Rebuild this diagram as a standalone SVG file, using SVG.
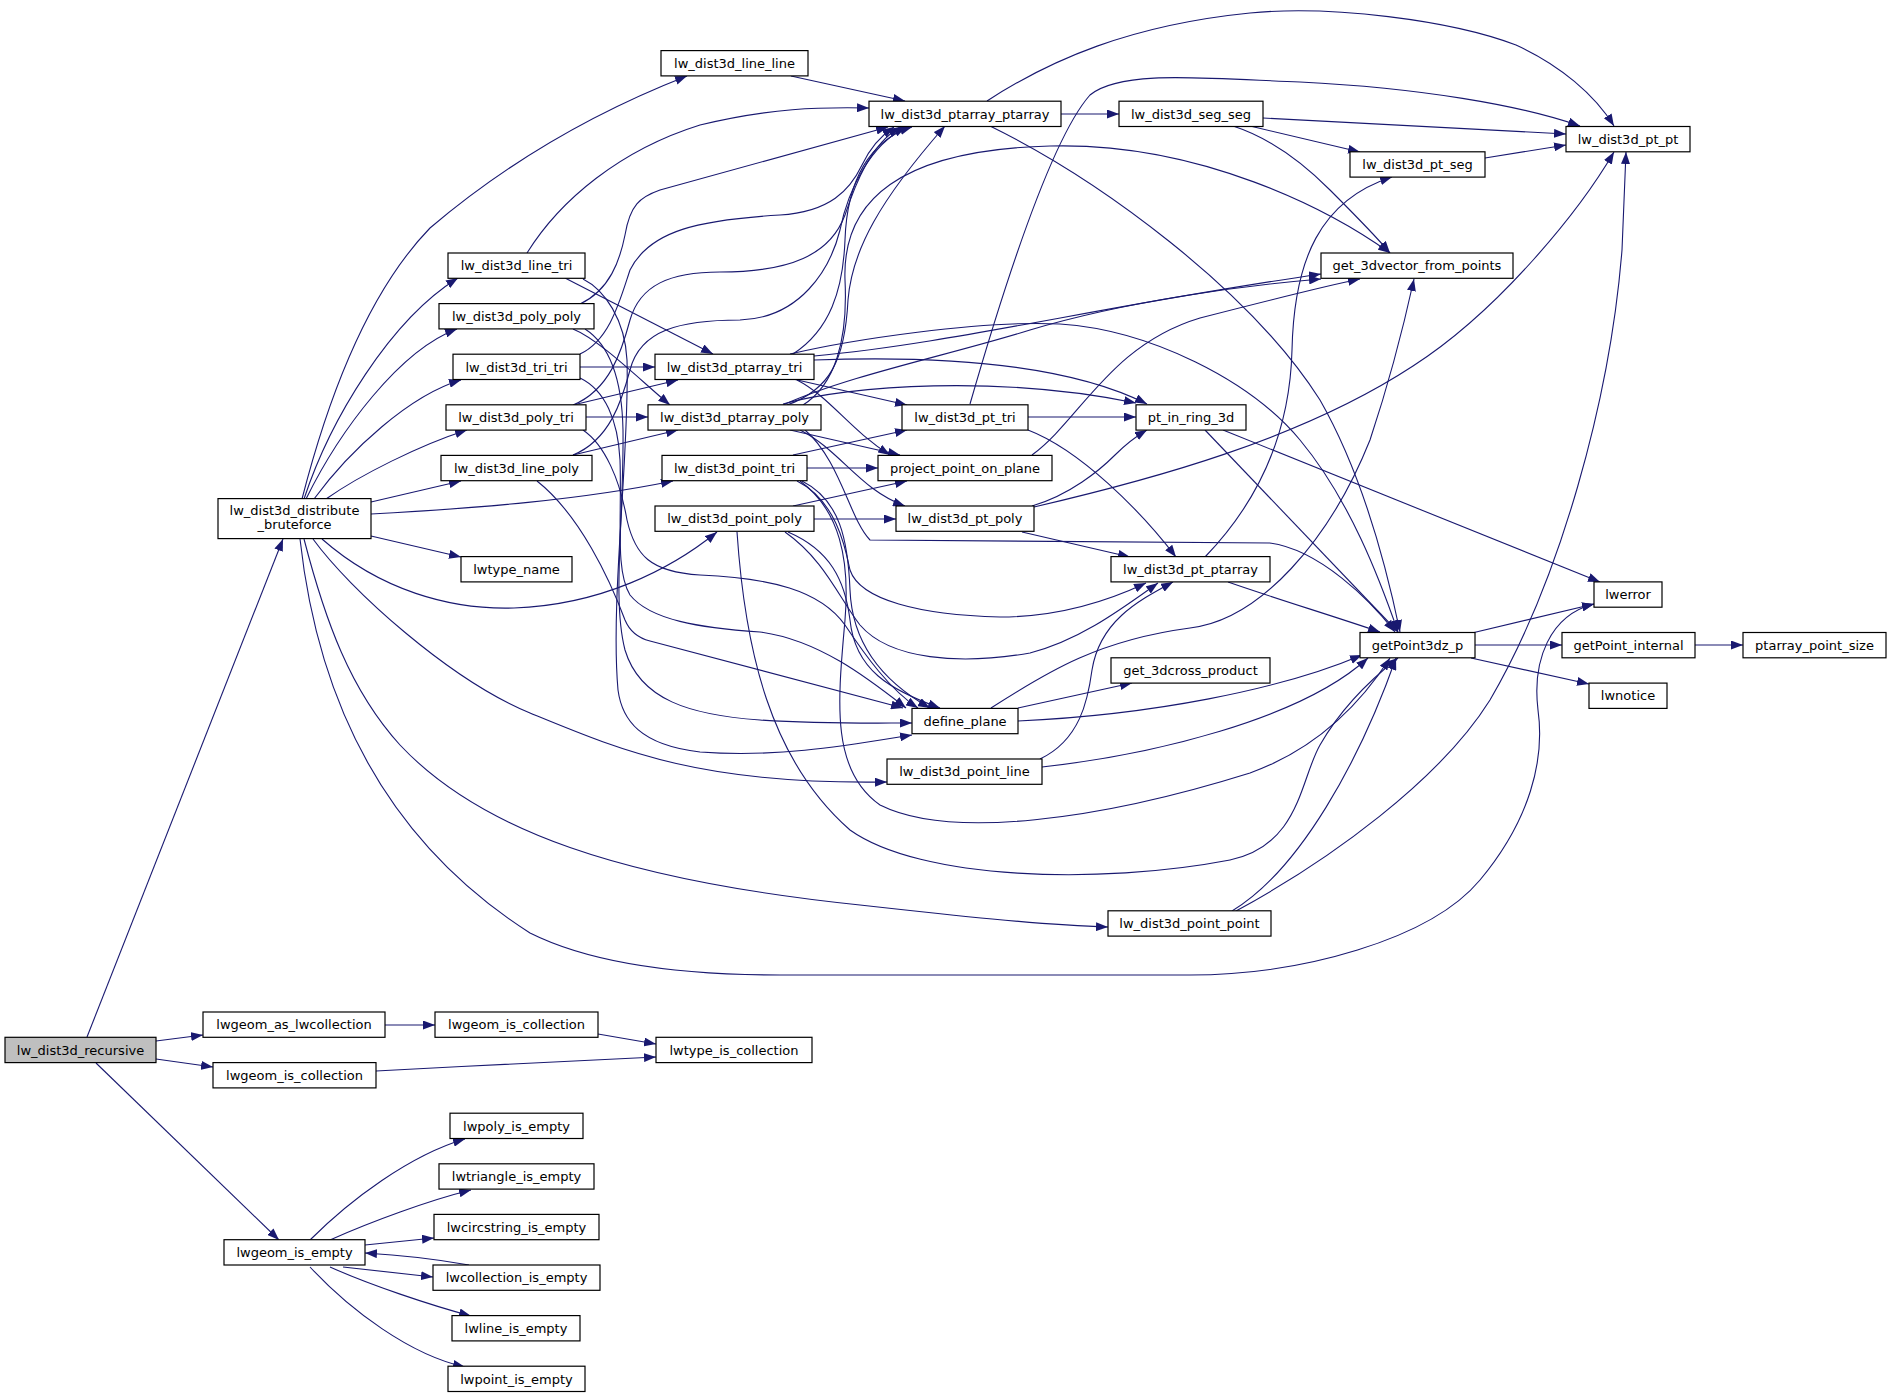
<svg xmlns="http://www.w3.org/2000/svg" width="1891" height="1399" viewBox="0 0 1891 1399">
<defs>
<marker id="ah" markerUnits="userSpaceOnUse" markerWidth="12" markerHeight="9" refX="12" refY="4.5" orient="auto">
<path d="M0,0 L12,4.5 L0,9 z" fill="#191970"/>
</marker>
<style>
.node rect{fill:#ffffff;stroke:#000000;stroke-width:1.2}
.node.root rect{fill:#bfbfbf}
.node text{font-family:"DejaVu Sans","Liberation Sans",sans-serif;font-size:13px;text-anchor:middle;fill:#000000}
.edges path{fill:none;stroke:#191970;stroke-width:1.1;marker-end:url(#ah)}
</style>
</defs>
<rect x="0" y="0" width="1891" height="1399" fill="#ffffff"/>
<g id="connectors" class="edges">
<path d="M87,1037 L283,539"/>
<path d="M156,1041 L203,1035"/>
<path d="M156,1059 L213,1067"/>
<path d="M96,1063 L279,1240"/>
<path d="M385,1025 L435,1025"/>
<path d="M598,1034 L656,1044"/>
<path d="M376,1071 C470,1066 570,1061 656,1057"/>
<path d="M310,1240 C350,1200 410,1155 465,1139"/>
<path d="M330,1240 C370,1222 430,1200 471,1190"/>
<path d="M365,1245 L434,1238"/>
<path d="M343,1267 L433,1277"/>
<path d="M469,1265 C430,1258 400,1255 365,1253"/>
<path d="M330,1267 C370,1285 430,1305 471,1316"/>
<path d="M310,1267 C350,1310 410,1355 465,1367"/>
<path d="M302,499 C330,390 370,290 430,228 C510,160 600,110 687,76"/>
<path d="M304,499 C330,420 390,320 458,278"/>
<path d="M306,499 C340,430 400,350 457,329"/>
<path d="M314,499 C350,450 410,395 461,380"/>
<path d="M326,499 C360,475 420,445 467,430"/>
<path d="M371,502 L461,481"/>
<path d="M371,514 C480,508 580,500 673,481"/>
<path d="M371,536 L461,557"/>
<path d="M322,539 C380,590 450,610 514,608 C600,605 670,570 717,532"/>
<path d="M313,539 C350,590 450,680 530,713 C620,750 700,785 887,782"/>
<path d="M304,539 C325,620 350,690 400,745 C480,830 620,880 860,905 C950,915 1040,925 1108,927"/>
<path d="M300,539 C320,720 400,850 530,933 C600,968 700,975 780,975 L1190,975 C1300,975 1430,940 1480,880 C1530,820 1545,760 1538,710 C1532,660 1550,615 1594,604"/>
<path d="M527,253 C560,200 620,150 700,125 C770,108 820,107 869,108"/>
<path d="M565,278 L713,354"/>
<path d="M583,279 C605,290 625,320 627,360 C630,450 610,600 618,690 C622,720 640,745 700,752 C780,758 850,745 912,735"/>
<path d="M580,304 C610,290 620,260 625,235 C630,205 640,197 660,190 L888,127"/>
<path d="M573,329 C600,340 640,380 670,405"/>
<path d="M585,329 C610,345 622,380 623,430 C624,520 612,600 625,650 C640,700 690,715 760,720 C820,724 870,723 912,723"/>
<path d="M580,354 C610,340 620,300 630,270 C650,230 700,220 780,215 C830,212 850,190 862,165 C870,148 882,135 894,127"/>
<path d="M580,367 L655,367"/>
<path d="M580,378 C605,390 618,420 620,460 C622,520 615,570 630,595 C650,620 700,628 760,632 C820,640 870,680 906,708"/>
<path d="M573,405 C610,390 622,350 630,320 C640,285 670,272 720,272 C790,272 830,255 845,215 C855,185 870,145 900,127"/>
<path d="M586,417 L648,417"/>
<path d="M573,405 L678,380"/>
<path d="M583,430 C605,445 620,480 627,520 C635,555 650,572 700,575 C770,578 820,590 845,625 C865,655 890,690 918,708"/>
<path d="M573,455 C610,440 622,400 630,370 C640,330 680,320 740,320 C800,318 830,270 840,230 C848,190 870,145 906,127"/>
<path d="M573,455 L678,430"/>
<path d="M537,481 C580,515 610,580 625,620 C630,632 638,638 650,641 L903,708"/>
<path d="M791,76 L905,101"/>
<path d="M793,354 C830,330 843,290 845,240 C847,180 870,140 912,127"/>
<path d="M814,356 C950,344 1100,306 1321,274"/>
<path d="M814,360 C950,355 1070,365 1147,404"/>
<path d="M790,354 C850,340 980,320 1060,324 C1150,330 1250,380 1300,440 C1350,500 1380,580 1398,632"/>
<path d="M793,379 L907,405"/>
<path d="M797,380 C830,397 850,430 890,455"/>
<path d="M787,405 C830,390 845,360 848,300 C852,250 880,200 945,126"/>
<path d="M803,405 C835,385 848,340 845,280 C842,200 900,150 1050,146 C1200,142 1330,210 1390,253"/>
<path d="M783,405 C850,375 950,355 1030,330 C1130,300 1250,285 1321,279"/>
<path d="M783,404 C850,385 1000,375 1136,403"/>
<path d="M790,430 L900,455"/>
<path d="M800,430 C840,450 860,490 905,506"/>
<path d="M805,430 C840,460 850,520 870,540 L1270,543 C1320,550 1370,600 1395,632"/>
<path d="M793,455 L907,430"/>
<path d="M807,468 L878,468"/>
<path d="M802,481 C840,500 848,540 850,590 C852,640 880,680 930,708"/>
<path d="M800,481 C840,510 850,560 845,620 C838,700 830,770 880,805 C950,840 1100,820 1250,773 C1300,755 1350,720 1390,658"/>
<path d="M797,481 C835,500 845,545 850,570 C860,600 920,615 1000,617 C1060,617 1110,600 1146,583"/>
<path d="M793,506 L907,481"/>
<path d="M814,519 L896,519"/>
<path d="M788,532 C830,550 845,580 850,620 C855,670 890,690 940,708"/>
<path d="M737,532 C745,650 770,760 850,830 C920,880 1100,885 1230,860 C1300,845 1300,780 1320,745 C1340,710 1370,680 1398,658"/>
<path d="M785,532 C825,560 840,600 860,625 C890,660 960,665 1030,653 C1080,640 1120,610 1158,583"/>
<path d="M1061,114 L1119,114"/>
<path d="M987,101 C1050,60 1130,25 1250,13 C1330,5 1450,20 1516,45 C1560,65 1595,95 1614,126"/>
<path d="M990,126 C1100,180 1250,290 1320,400 C1360,470 1385,560 1400,632"/>
<path d="M970,404 C1000,300 1050,140 1090,95 C1120,70 1200,78 1300,82 C1420,88 1520,105 1580,126"/>
<path d="M1028,417 L1136,417"/>
<path d="M1028,430 C1080,450 1140,510 1176,557"/>
<path d="M1032,455 C1080,420 1110,345 1200,318 C1270,300 1330,285 1360,279"/>
<path d="M1032,506 C1070,495 1100,470 1115,455 C1125,445 1135,437 1147,430"/>
<path d="M1034,507 C1150,480 1300,440 1413,366 C1500,310 1580,210 1614,152"/>
<path d="M1022,532 L1130,557"/>
<path d="M991,708 C1050,670 1100,640 1190,628 C1260,620 1330,540 1370,440 C1390,380 1405,320 1414,279"/>
<path d="M1018,708 L1132,683"/>
<path d="M1018,721 C1150,715 1280,690 1362,655"/>
<path d="M1040,759 C1080,740 1088,700 1092,670 C1100,620 1140,600 1173,582"/>
<path d="M1042,767 C1150,755 1300,720 1368,658"/>
<path d="M1263,118 L1566,134"/>
<path d="M1250,126 L1360,152"/>
<path d="M1233,126 C1267,137 1300,160 1330,190 C1355,215 1375,235 1390,253"/>
<path d="M1205,430 L1398,632"/>
<path d="M1223,430 L1600,582"/>
<path d="M1205,557 C1260,500 1290,430 1292,350 C1294,260 1320,200 1392,177"/>
<path d="M1228,582 C1280,600 1330,615 1380,632"/>
<path d="M1232,911 C1300,870 1360,760 1396,658"/>
<path d="M1236,911 C1330,860 1440,780 1490,700 C1560,580 1610,400 1622,250 L1626,152"/>
<path d="M1485,158 L1566,145"/>
<path d="M1472,633 L1594,604"/>
<path d="M1475,645 L1562,645"/>
<path d="M1471,658 L1589,684"/>
<path d="M1695,645 L1743,645"/>
</g>
<g id="n_recursive" class="node root"><rect x="5" y="1037.3" width="151" height="25.3"/><text x="80.5" y="1054.6">lw_dist3d_recursive</text></g>
<g id="n_distribute" class="node"><rect x="218" y="498.6" width="153" height="40"/><text x="294.5" y="515.4">lw_dist3d_distribute</text><text x="294.5" y="529.4">_bruteforce</text></g>
<g id="n_line_line" class="node"><rect x="661" y="50.6" width="147" height="25.3"/><text x="734.5" y="67.9">lw_dist3d_line_line</text></g>
<g id="n_ptarray_ptarray" class="node"><rect x="869" y="101.2" width="192" height="25.3"/><text x="965" y="118.5">lw_dist3d_ptarray_ptarray</text></g>
<g id="n_seg_seg" class="node"><rect x="1119" y="101.2" width="144" height="25.3"/><text x="1191" y="118.5">lw_dist3d_seg_seg</text></g>
<g id="n_pt_pt" class="node"><rect x="1566" y="126.5" width="124" height="25.3"/><text x="1628" y="143.8">lw_dist3d_pt_pt</text></g>
<g id="n_pt_seg" class="node"><rect x="1350" y="151.8" width="135" height="25.3"/><text x="1417.5" y="169.1">lw_dist3d_pt_seg</text></g>
<g id="n_get_3dvector" class="node"><rect x="1321" y="253" width="192" height="25.3"/><text x="1417" y="270.3">get_3dvector_from_points</text></g>
<g id="n_line_tri" class="node"><rect x="448" y="253" width="137" height="25.3"/><text x="516.5" y="270.3">lw_dist3d_line_tri</text></g>
<g id="n_poly_poly" class="node"><rect x="439" y="303.6" width="155" height="25.3"/><text x="516.5" y="320.9">lw_dist3d_poly_poly</text></g>
<g id="n_tri_tri" class="node"><rect x="453" y="354.2" width="127" height="25.3"/><text x="516.5" y="371.5">lw_dist3d_tri_tri</text></g>
<g id="n_ptarray_tri" class="node"><rect x="655" y="354.2" width="159" height="25.3"/><text x="734.5" y="371.5">lw_dist3d_ptarray_tri</text></g>
<g id="n_poly_tri" class="node"><rect x="446" y="404.8" width="140" height="25.3"/><text x="516" y="422.1">lw_dist3d_poly_tri</text></g>
<g id="n_ptarray_poly" class="node"><rect x="648" y="404.8" width="173" height="25.3"/><text x="734.5" y="422.1">lw_dist3d_ptarray_poly</text></g>
<g id="n_pt_tri" class="node"><rect x="902" y="404.8" width="126" height="25.3"/><text x="965" y="422.1">lw_dist3d_pt_tri</text></g>
<g id="n_pt_in_ring_3d" class="node"><rect x="1136" y="404.8" width="110" height="25.3"/><text x="1191" y="422.1">pt_in_ring_3d</text></g>
<g id="n_line_poly" class="node"><rect x="441" y="455.4" width="151" height="25.3"/><text x="516.5" y="472.7">lw_dist3d_line_poly</text></g>
<g id="n_point_tri" class="node"><rect x="662" y="455.4" width="145" height="25.3"/><text x="734.5" y="472.7">lw_dist3d_point_tri</text></g>
<g id="n_project_point_on_plane" class="node"><rect x="878" y="455.4" width="174" height="25.3"/><text x="965" y="472.7">project_point_on_plane</text></g>
<g id="n_point_poly" class="node"><rect x="655" y="506" width="159" height="25.3"/><text x="734.5" y="523.3">lw_dist3d_point_poly</text></g>
<g id="n_pt_poly" class="node"><rect x="896" y="506" width="138" height="25.3"/><text x="965" y="523.3">lw_dist3d_pt_poly</text></g>
<g id="n_lwtype_name" class="node"><rect x="461" y="556.6" width="111" height="25.3"/><text x="516.5" y="573.9">lwtype_name</text></g>
<g id="n_pt_ptarray" class="node"><rect x="1111" y="556.6" width="159" height="25.3"/><text x="1190.5" y="573.9">lw_dist3d_pt_ptarray</text></g>
<g id="n_lwerror" class="node"><rect x="1594" y="581.9" width="68" height="25.3"/><text x="1628" y="599.2">lwerror</text></g>
<g id="n_getPoint3dz_p" class="node"><rect x="1360" y="632.5" width="115" height="25.3"/><text x="1417.5" y="649.8">getPoint3dz_p</text></g>
<g id="n_getPoint_internal" class="node"><rect x="1562" y="632.5" width="133" height="25.3"/><text x="1628.5" y="649.8">getPoint_internal</text></g>
<g id="n_ptarray_point_size" class="node"><rect x="1743" y="632.5" width="143" height="25.3"/><text x="1814.5" y="649.8">ptarray_point_size</text></g>
<g id="n_get_3dcross_product" class="node"><rect x="1111" y="657.8" width="159" height="25.3"/><text x="1190.5" y="675.1">get_3dcross_product</text></g>
<g id="n_lwnotice" class="node"><rect x="1589" y="683.1" width="78" height="25.3"/><text x="1628" y="700.4">lwnotice</text></g>
<g id="n_define_plane" class="node"><rect x="912" y="708.4" width="106" height="25.3"/><text x="965" y="725.7">define_plane</text></g>
<g id="n_point_line" class="node"><rect x="887" y="759" width="155" height="25.3"/><text x="964.5" y="776.3">lw_dist3d_point_line</text></g>
<g id="n_point_point" class="node"><rect x="1108" y="910.8" width="163" height="25.3"/><text x="1189.5" y="928.1">lw_dist3d_point_point</text></g>
<g id="n_lwgeom_as_lwcollection" class="node"><rect x="203" y="1012" width="182" height="25.3"/><text x="294" y="1029.3">lwgeom_as_lwcollection</text></g>
<g id="n_lwgeom_is_collection_a" class="node"><rect x="435" y="1012" width="163" height="25.3"/><text x="516.5" y="1029.3">lwgeom_is_collection</text></g>
<g id="n_lwtype_is_collection" class="node"><rect x="656" y="1037.3" width="156" height="25.3"/><text x="734" y="1054.6">lwtype_is_collection</text></g>
<g id="n_lwgeom_is_collection_b" class="node"><rect x="213" y="1062.6" width="163" height="25.3"/><text x="294.5" y="1079.9">lwgeom_is_collection</text></g>
<g id="n_lwpoly_is_empty" class="node"><rect x="450" y="1113.2" width="133" height="25.3"/><text x="516.5" y="1130.5">lwpoly_is_empty</text></g>
<g id="n_lwtriangle_is_empty" class="node"><rect x="439" y="1163.8" width="155" height="25.3"/><text x="516.5" y="1181.1">lwtriangle_is_empty</text></g>
<g id="n_lwcircstring_is_empty" class="node"><rect x="434" y="1214.4" width="165" height="25.3"/><text x="516.5" y="1231.7">lwcircstring_is_empty</text></g>
<g id="n_lwgeom_is_empty" class="node"><rect x="224" y="1239.7" width="141" height="25.3"/><text x="294.5" y="1257">lwgeom_is_empty</text></g>
<g id="n_lwcollection_is_empty" class="node"><rect x="433" y="1265" width="167" height="25.3"/><text x="516.5" y="1282.3">lwcollection_is_empty</text></g>
<g id="n_lwline_is_empty" class="node"><rect x="452" y="1315.6" width="128" height="25.3"/><text x="516" y="1332.9">lwline_is_empty</text></g>
<g id="n_lwpoint_is_empty" class="node"><rect x="448" y="1366.2" width="137" height="25.3"/><text x="516.5" y="1383.5">lwpoint_is_empty</text></g>
</svg>
